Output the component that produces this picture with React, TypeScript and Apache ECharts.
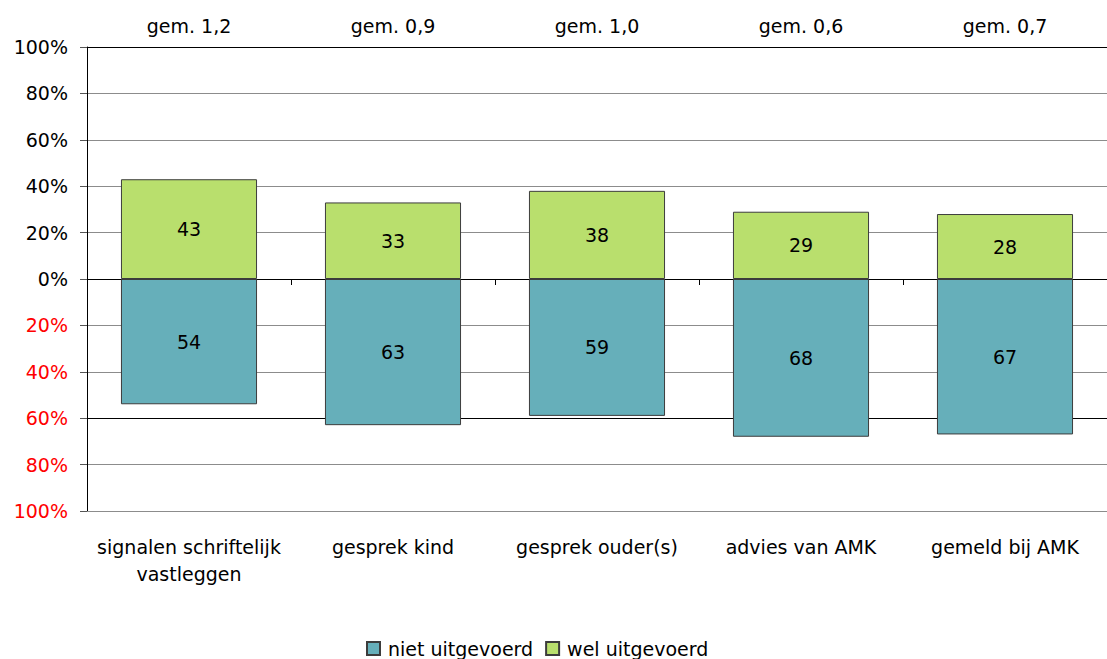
import React, { useEffect, useRef } from "react";
import * as echarts from "echarts";

const categories = [
  "signalen schriftelijk\nvastleggen",
  "gesprek kind",
  "gesprek ouder(s)",
  "advies van AMK",
  "gemeld bij AMK",
];
const averages = ["gem. 1,2", "gem. 0,9", "gem. 1,0", "gem. 0,6", "gem. 0,7"];
const nietUitgevoerd = [54, 63, 59, 68, 67];
const welUitgevoerd = [43, 33, 38, 29, 28];
const seriesNames = ["niet uitgevoerd", "wel uitgevoerd"];
const yMin = -100;
const yMax = 100;
const yInterval = 20;

const FONT = "DejaVu Sans";
const FS = 19;

export default function App() {
  const ref = useRef<HTMLDivElement>(null);
  useEffect(() => {
    if (!ref.current) return;
    const chart = echarts.init(ref.current, undefined, { renderer: "svg" });
    const gray = "#8c8c8c";
    const splitColors = [gray, gray, "#000", gray, gray, "#000", gray, gray, gray, gray, "#000"];
    chart.setOption({
      animation: false,
      textStyle: { fontFamily: FONT },
      grid: { left: 87, top: 47, width: 1027, height: 464, containLabel: false },
      legend: {
        left: 361,
        top: 634,
        itemWidth: 13,
        itemHeight: 13,
        itemGap: 12,
        icon: "rect",
        textStyle: { fontSize: FS, color: "#000", fontFamily: FONT, padding: [0, 0, 0, 3] },
        data: seriesNames,
      },
      xAxis: [
        {
          type: "category",
          data: categories,
          position: "bottom",
          axisLine: { onZero: true, lineStyle: { color: "#000", width: 1 } },
          axisTick: { show: true, length: 6, lineStyle: { color: "#000" } },
          axisLabel: { show: false },
          splitLine: { show: false },
        },
        {
          type: "category",
          data: categories,
          position: "bottom",
          axisLine: { onZero: false, lineStyle: { color: gray, width: 1 } },
          axisTick: { show: false },
          axisLabel: {
            show: true,
            color: "#000",
            fontSize: FS,
            fontFamily: FONT,
            lineHeight: 27,
            margin: 22,
            interval: 0,
          },
        },
        {
          type: "category",
          data: averages,
          position: "top",
          axisLine: { onZero: false, lineStyle: { color: "#000", width: 1 } },
          axisTick: { show: false },
          axisLabel: {
            show: true,
            color: "#000",
            fontSize: FS,
            fontFamily: FONT,
            margin: 12,
            interval: 0,
          },
        },
      ],
      yAxis: {
        type: "value",
        min: yMin,
        max: yMax,
        interval: yInterval,
        axisLine: { show: true, lineStyle: { color: "#000" } },
        axisTick: { show: true, length: 7, lineStyle: { color: "#555" } },
        axisLabel: {
          fontSize: FS,
          fontFamily: FONT,
          margin: 19,
          formatter: (v: number) => Math.abs(v) + "%",
          color: (v: any) => (Number(v) < 0 ? "#ff0000" : "#000"),
        },
        splitLine: { show: true, lineStyle: { color: splitColors, width: 1 } },
      },
      series: [
        {
          name: seriesNames[0],
          type: "bar",
          stack: "total",
          xAxisIndex: 0,
          barWidth: "66.7%",
          data: nietUitgevoerd.map((v) => -v),
          itemStyle: { color: "#66AFBA", borderColor: "#3c3c3c", borderWidth: 1 },
          label: {
            show: true,
            position: "inside",
            color: "#000",
            fontSize: FS,
            fontFamily: FONT,
            formatter: (p: any) => String(Math.abs(p.value)),
          },
        },
        {
          name: seriesNames[1],
          type: "bar",
          stack: "total",
          xAxisIndex: 0,
          barWidth: "66.7%",
          data: welUitgevoerd,
          itemStyle: { color: "#B9DF6D", borderColor: "#3c3c3c", borderWidth: 1 },
          label: {
            show: true,
            position: "inside",
            color: "#000",
            fontSize: FS,
            fontFamily: FONT,
            formatter: (p: any) => String(p.value),
          },
        },
      ],
    });
    return () => chart.dispose();
  }, []);
  return (
    <div
      ref={ref}
      style={{ position: "absolute", left: 0, top: 0, width: 1107, height: 659, background: "#fff" }}
    />
  );
}
